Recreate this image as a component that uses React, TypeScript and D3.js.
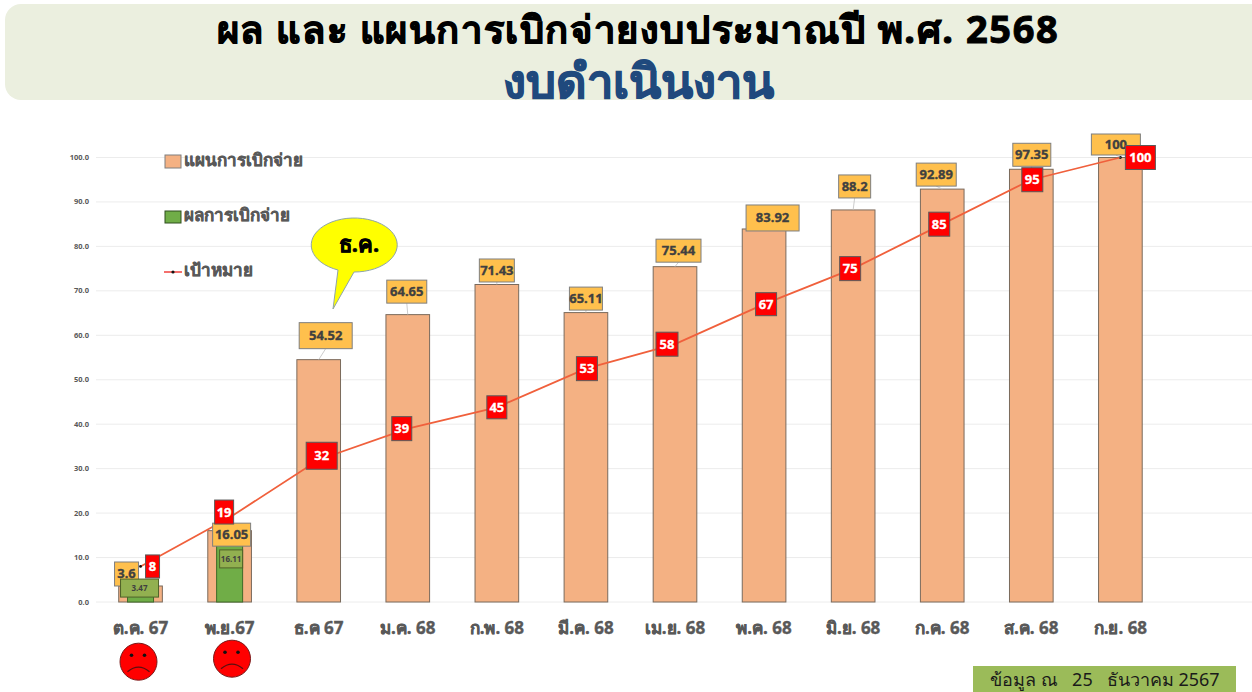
import React from "react";
import * as d3 from "d3";

const categories = ["ต.ค. 67", "พ.ย.67", "ธ.ค 67", "ม.ค. 68", "ก.พ. 68", "มี.ค. 68", "เม.ย. 68", "พ.ค. 68", "มิ.ย. 68", "ก.ค. 68", "ส.ค. 68", "ก.ย. 68"];
const planValues = [3.6, 16.05, 54.52, 64.65, 71.43, 65.11, 75.44, 83.92, 88.2, 92.89, 97.35, 100];
const actualValues = [3.47, 16.11];
const targetValues = [8, 19, 32, 39, 43.8, 52.5, 58, 67, 75, 85, 95, 100];
const targetLabels = ["8", "19", "32", "39", "45", "53", "58", "67", "75", "85", "95", "100"];
const yTicks = [0, 10, 20, 30, 40, 50, 60, 70, 80, 90, 100];

// layout of the annotation boxes, relative to the mark they belong to: dx, dy, w, h
const planBoxes = [[-14, -12, 24, 24], [2, 4, 38, 23], [7, -24, 53, 26], [-1, -23, 40, 23], [0, -14, 35, 23], [0, -14, 33, 23], [3.5, -16, 45, 23], [8.5, -11, 53, 26], [1.5, -23.5, 32, 23], [-6, -14.5, 40, 23], [0.5, -14.5, 38, 23], [-4.5, -13, 49, 21]];
const targetBoxes = [[12, 0, 14, 23], [-5.5, -5.5, 19, 24], [3, -4, 31, 27], [-6, 0, 20, 24], [0, 0, 20, 23], [1, 0, 21, 24], [-8, 0, 22, 24], [2, 0, 21, 23], [-3, 0, 21, 24], [-3, 0, 21, 24], [1, 0, 21, 24], [20, 0, 30, 24]];
const actualBoxes = [[-1, 1.5, 38, 18], [1.5, 28.5, 23, 18]];

const FONT = "'Noto Sans', 'Liberation Sans', 'DejaVu Sans', sans-serif";
const GREY = "#595959";

const x = d3.scaleBand<number>().domain(d3.range(13)).range([96, 1254]).paddingInner(0.51).paddingOuter(0.255);
const y = d3.scaleLinear().domain([0, 100]).range([602, 157.5]);
const cx = (i: number) => (x(i) as number) + x.bandwidth() / 2;
const line = d3.line<number>().x((_, i) => cx(i)).y((d) => y(d));

function Face({ fx, fy }: { fx: number; fy: number }) {
  return (
    <g transform={`translate(${fx},${fy})`}>
      <circle r={18.5} fill="#ff0000" stroke="#7a1a1a" strokeWidth={1} />
      <circle cx={-7} cy={-6.5} r={1.8} fill="#111" />
      <circle cx={6} cy={-6.5} r={1.8} fill="#111" />
      <path d="M-11,10 Q0,1 11,10" fill="none" stroke="#5a1010" strokeWidth={1.3} />
    </g>
  );
}

export default function App() {
  return (
    <svg width={1252} height={692} style={{ position: "fixed", left: 0, top: 0, background: "#fff" }} fontFamily={FONT}>
      <rect x={5} y={4} width={1262} height={96} rx={16} fill="#EBEFDF" />
      <text x={638} y={43} textAnchor="middle" fontSize={38} fontWeight={700} letterSpacing={1.6} fill="#000" stroke="#000" strokeWidth={1}>ผล และ แผนการเบิกจ่ายงบประมาณปี พ.ศ. 2568</text>
      <text x={638} y={98} textAnchor="middle" fontSize={47} fontWeight={700} fill="#1F497D" stroke="#1F497D" strokeWidth={1}>งบดำเนินงาน</text>

      {yTicks.map((t) => (
        <g key={t}>
          <line x1={96} x2={1252} y1={y(t)} y2={y(t)} stroke="#ececec" strokeWidth={1} />
          <text x={89} y={y(t) + 2.5} textAnchor="end" fontSize={7.5} fontWeight={700} fill={GREY}>{t.toFixed(1)}</text>
        </g>
      ))}

      {planValues.map((v, i) => (
        <rect key={i} x={x(i)} y={y(v)} width={x.bandwidth()} height={y(0) - y(v)} fill="#F4B183" stroke="#7a6a5c" strokeWidth={1} />
      ))}
      {actualValues.map((v, i) => (
        <rect key={i} x={cx(i) - 13} y={y(v)} width={26} height={y(0) - y(v)} fill="#70AD47" stroke="#3f6b28" strokeWidth={1} />
      ))}

      <path d={line(targetValues) as string} fill="none" stroke="#F0603C" strokeWidth={1.8} />
      {targetValues.map((v, i) => (
        <circle key={i} cx={cx(i)} cy={y(v)} r={1.4} fill="#111" />
      ))}

      {planValues.map((v, i) => {
        const [dx, dy, w, h] = planBoxes[i];
        const bx = cx(i) + dx;
        const by = y(v) + dy;
        return (
          <g key={i}>
            {i > 1 && dy + h / 2 < 0 && <line x1={bx} y1={by + h / 2} x2={cx(i)} y2={y(v)} stroke="#bfbfbf" strokeWidth={0.8} />}
            <rect x={bx - w / 2} y={by - h / 2} width={w} height={h} fill="#FFC04D" stroke="#7f7f7f" strokeWidth={1} />
            <text x={bx} y={by + 4.5} textAnchor="middle" fontSize={13} fontWeight={700} fill="#404040" stroke="#404040" strokeWidth={0.35}>{v}</text>
          </g>
        );
      })}

      {actualValues.map((v, i) => {
        const [dx, dy, w, h] = actualBoxes[i];
        const bx = cx(i) + dx;
        const by = y(v) + dy;
        return (
          <g key={i}>
            <rect x={bx - w / 2} y={by - h / 2} width={w} height={h} fill="#92B050" stroke="#4f6228" strokeWidth={1} />
            <text x={bx} y={by + 3} textAnchor="middle" fontSize={8} fontWeight={700} fill="#404040">{v}</text>
          </g>
        );
      })}

      {targetValues.map((v, i) => {
        const [dx, dy, w, h] = targetBoxes[i];
        const bx = cx(i) + dx;
        const by = y(v) + dy;
        return (
          <g key={i}>
            <rect x={bx - w / 2} y={by - h / 2} width={w} height={h} fill="#FF0000" stroke="#5a5a5a" strokeWidth={1} />
            <text x={bx} y={by + 4.5} textAnchor="middle" fontSize={13} fontWeight={700} fill="#fff" stroke="#fff" strokeWidth={0.3}>{targetLabels[i]}</text>
          </g>
        );
      })}

      {categories.map((c, i) => (
        <text key={c} x={cx(i)} y={634} textAnchor="middle" fontSize={17} fontWeight={700} fill={GREY} stroke={GREY} strokeWidth={0.4}>{c}</text>
      ))}

      <rect x={165} y={155} width={16} height={13} fill="#F4B183" stroke="#7f7f7f" />
      <text x={184} y={166} fontSize={17} fontWeight={700} fill={GREY} stroke={GREY} strokeWidth={0.4}>แผนการเบิกจ่าย</text>
      <rect x={165} y={211} width={16} height={12} fill="#70AD47" stroke="#2f4f1f" />
      <text x={184} y={221} fontSize={17} fontWeight={700} fill={GREY} stroke={GREY} strokeWidth={0.4}>ผลการเบิกจ่าย</text>
      <line x1={164} x2={182} y1={272} y2={272} stroke="#F0403C" strokeWidth={1.5} />
      <circle cx={173} cy={272} r={1.6} fill="#111" />
      <text x={184} y={276} fontSize={17} fontWeight={700} fill={GREY} stroke={GREY} strokeWidth={0.4}>เป้าหมาย</text>

      <path d="M338,270 A43,27 0 1 1 354,272 L333,309 Z" fill="#FFFF00" stroke="#8fa5a8" strokeWidth={1} />
      <text x={359} y={252} textAnchor="middle" fontSize={22} fontWeight={700} fill="#000" stroke="#000" strokeWidth={0.6}>ธ.ค.</text>

      <Face fx={138.5} fy={661.7} />
      <Face fx={232} fy={658.7} />

      <rect x={973} y={666} width={263} height={26} fill="#9BBB59" />
      <text x={1105} y={686} textAnchor="middle" fontSize={18} fontWeight={400} fill="#1a1a1a" style={{ whiteSpace: "pre" }}>ข้อมูล ณ   25   ธันวาคม 2567</text>
    </svg>
  );
}
